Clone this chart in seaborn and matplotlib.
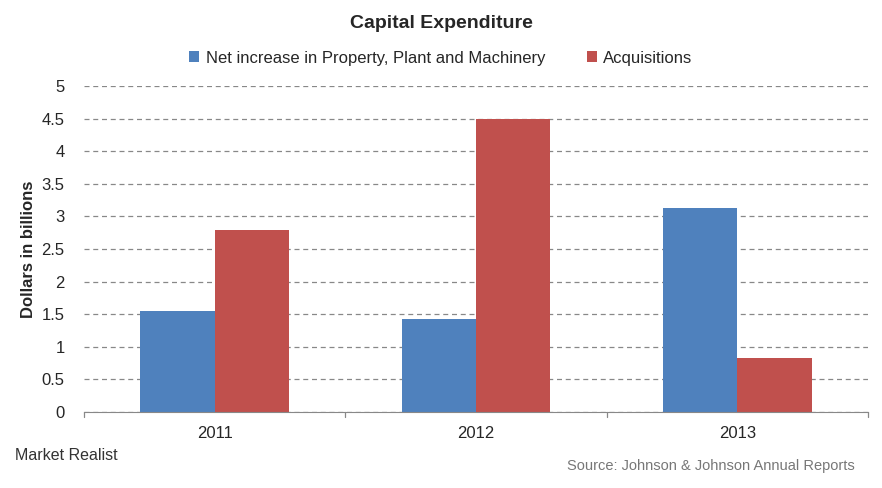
import matplotlib
matplotlib.use("Agg")
import matplotlib.pyplot as plt
import seaborn as sns
import pandas as pd

years = ["2011", "2012", "2013"]
series_names = ["Net increase in Property, Plant and Machinery", "Acquisitions"]
ppm = [1.55, 1.42, 3.13]
acq = [2.79, 4.49, 0.83]
colors = ["#4F81BD", "#C0504D"]

df = pd.DataFrame({
    "Year": years * 2,
    "Series": [series_names[0]] * 3 + [series_names[1]] * 3,
    "Value": ppm + acq,
})

sns.set_style("white")
plt.rcParams["font.family"] = ["Liberation Sans", "DejaVu Sans"]

fig = plt.figure(figsize=(8.82, 4.88), dpi=100)
ax = fig.add_axes([84 / 882, 1 - 412 / 488, (868 - 84) / 882, (412 - 86) / 488])

sns.barplot(data=df, x="Year", y="Value", hue="Series", palette=colors,
            width=0.57, ax=ax, saturation=1, legend=True, linewidth=0, edgecolor="none")

ax.set_ylim(0, 5)
ax.set_xlim(-0.5, 2.5)
ax.set_yticks([0, 0.5, 1, 1.5, 2, 2.5, 3, 3.5, 4, 4.5, 5])
ax.set_yticklabels(["0", "0.5", "1", "1.5", "2", "2.5", "3", "3.5", "4", "4.5", "5"], fontsize=12)
ax.yaxis.grid(True, linestyle=(0, (4, 3)), color="#888888", linewidth=0.9)
ax.set_axisbelow(True)
for s in ["top", "right", "left"]:
    ax.spines[s].set_visible(False)
ax.spines["bottom"].set_color("#888888")
ax.tick_params(axis="y", length=0, pad=14)
ax.set_xticks([0, 1, 2])
ax.set_xticklabels(years, fontsize=12)
ax.tick_params(axis="x", length=0, pad=10)
for xb in [-0.5, 0.5, 1.5, 2.5]:
    ax.plot([xb, xb], [0, -0.08], color="#888888", lw=0.9, clip_on=False)
ax.set_xlabel("")
ax.set_ylabel("Dollars in billions", fontsize=12, fontweight="bold", labelpad=4)

leg = ax.legend(loc="center", bbox_to_anchor=(0.455, 1 + 28 / 326), ncol=2, frameon=False,
                fontsize=12, handlelength=0.6, handleheight=0.6, handletextpad=0.4,
                columnspacing=2.5)

fig.text(0.5, 1 - 23 / 488, "Capital Expenditure", ha="center", va="center",
         fontsize=14, fontweight="bold")
fig.text(15 / 882, 1 - 456 / 488, "Market Realist", ha="left", va="center",
         fontsize=11.5, color="#333333", fontweight="medium")
fig.text(855 / 882, 1 - 466 / 488, "Source: Johnson & Johnson Annual Reports", ha="right",
         va="center", fontsize=10.5, color="#777777")

fig.savefig("out.png", dpi=100)
